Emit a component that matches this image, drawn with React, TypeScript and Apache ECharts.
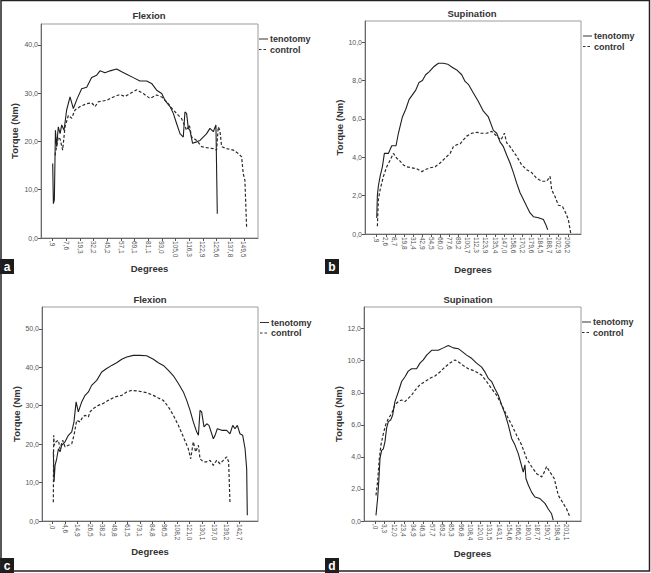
import React, { useEffect, useRef } from "react";
import * as echarts from "echarts";

// ---- Panel a: Flexion ----
const labelsA = [",9", "7,6", "19,3", "32,2", "45,2", "57,1", "69,1", "81,1", "93,0", "105,0", "116,3", "122,9", "125,6", "137,8", "149,5"];
const yTicksA = [0, 10, 20, 30, 40];
const tenotomyA = [
  [0.0, 15.4], [0.05, 7.1], [0.12, 7.9], [0.2, 22.3], [0.29, 18.9], [0.41, 23.0], [0.54, 21.6], [0.66, 23.4],
  [0.83, 22.3], [1.02, 26.5], [1.27, 29.2], [1.51, 26.8], [1.8, 28.9], [2.12, 30.9], [2.49, 31.2], [2.85, 33.2],
  [3.22, 33.7], [3.46, 34.6], [3.83, 34.2], [4.2, 34.6], [4.68, 35.0], [5.05, 34.4], [5.41, 33.9], [5.9, 33.2],
  [6.39, 32.5], [6.88, 32.5], [7.24, 32.0], [7.61, 30.6], [7.98, 29.9], [8.22, 28.5], [8.59, 27.2], [8.83, 25.8],
  [9.07, 23.7], [9.32, 21.6], [9.56, 20.9], [9.68, 26.1], [9.8, 25.8], [9.93, 22.7], [10.05, 22.3], [10.24, 19.6],
  [10.54, 19.9], [10.78, 20.2], [11.02, 20.9], [11.27, 21.6], [11.51, 22.7], [11.76, 22.0], [11.95, 23.4], [12.05, 5.0],
];
const controlA = [
  [0.17, 17.1], [0.41, 20.9], [0.54, 20.5], [0.73, 18.2], [0.9, 23.0], [1.15, 25.4], [1.39, 24.8], [1.63, 26.5],
  [2.0, 27.2], [2.49, 27.8], [2.85, 28.0], [3.1, 27.2], [3.34, 28.2], [3.95, 28.5], [4.44, 29.2], [4.93, 29.7],
  [5.29, 29.3], [5.66, 29.9], [6.15, 30.7], [6.63, 29.9], [7.12, 28.9], [7.61, 29.6], [7.98, 29.2], [8.34, 28.2],
  [8.83, 26.5], [9.2, 25.4], [9.44, 24.7], [9.8, 22.3], [10.0, 23.4], [10.17, 20.9], [10.54, 20.2], [10.9, 18.9],
  [11.27, 18.7], [11.76, 18.5], [12.0, 18.2], [12.12, 23.0], [12.24, 22.3], [12.37, 18.9], [12.73, 18.5], [13.22, 18.2],
  [13.59, 17.5], [13.83, 16.8], [13.95, 13.3], [14.07, 12.0], [14.2, 1.9],
];

// ---- Panel b: Supination ----
const labelsB = [",9", "2,6", "8,7", "19,8", "31,4", "42,9", "54,5", "66,0", "77,6", "89,2", "100,7", "112,3", "123,9", "135,4", "147,0", "158,6", "170,2", "179,6", "184,5", "188,7", "202,9", "206,2"];
const yTicksB = [0, 2, 4, 6, 8, 10];
const tenotomyB = [
  [0.0, 0.83], [0.07, 2.0], [0.18, 2.5], [0.37, 3.0], [0.62, 3.5], [0.84, 4.2], [1.28, 4.2], [1.47, 4.4],
  [1.65, 4.6], [2.12, 4.6], [2.38, 5.25], [2.82, 6.1], [3.19, 6.5], [3.55, 7.0], [3.92, 7.25], [4.29, 7.5],
  [4.65, 7.9], [5.02, 8.0], [5.38, 8.3], [5.75, 8.45], [6.23, 8.7], [6.78, 8.9], [7.33, 8.9], [7.8, 8.85],
  [8.24, 8.7], [8.79, 8.55], [9.34, 8.3], [9.71, 7.95], [10.07, 7.8], [10.62, 7.35], [11.17, 6.9], [11.72, 6.4],
  [12.27, 6.1], [12.82, 5.4], [13.19, 5.25], [13.55, 4.8], [13.92, 4.55], [14.29, 4.1], [14.65, 3.7], [15.02, 3.2],
  [15.38, 2.65], [15.75, 2.15], [16.12, 1.8], [16.48, 1.45], [16.85, 1.1], [17.22, 0.9], [17.77, 0.85], [18.32, 0.75],
  [18.57, 0.5], [18.79, 0.22],
];
const controlB = [
  [0.07, 0.4], [0.18, 1.8], [0.37, 2.3], [0.73, 3.0], [1.1, 3.5], [1.47, 3.85], [1.83, 4.2], [2.2, 3.95],
  [2.56, 3.8], [2.93, 3.6], [3.3, 3.5], [3.85, 3.45], [4.4, 3.4], [4.95, 3.25], [5.31, 3.35], [5.86, 3.45],
  [6.41, 3.5], [6.96, 3.7], [7.51, 3.95], [8.06, 4.2], [8.42, 4.55], [8.79, 4.65], [9.16, 4.7], [9.52, 4.9],
  [9.89, 5.1], [10.44, 5.25], [10.99, 5.3], [11.54, 5.25], [12.09, 5.25], [12.64, 5.35], [13.19, 5.1], [13.66, 4.9],
  [14.03, 5.25], [14.29, 4.75], [14.65, 4.55], [15.02, 4.3], [15.38, 4.05], [15.93, 3.6], [16.48, 3.35], [17.03, 3.2],
  [17.58, 2.9], [18.13, 2.75], [18.68, 2.75], [19.05, 3.0], [19.23, 2.3], [19.6, 1.95], [19.96, 1.5], [20.4, 1.45],
  [20.77, 1.1], [21.06, 0.75], [21.32, 0.05],
];

// ---- Panel c: Flexion ----
const labelsC = [",0", "4,6", "14,9", "26,5", "38,2", "49,8", "61,5", "73,1", "84,8", "96,5", "108,2", "121,0", "130,1", "137,0", "139,2", "142,7"];
const yTicksC = [0, 10, 20, 30, 40, 50];
const tenotomyC = [
  [0.05, 18.0], [0.11, 10.2], [0.19, 14.5], [0.32, 16.2], [0.46, 18.8], [0.59, 18.0], [0.72, 19.7], [0.99, 20.6],
  [1.26, 22.3], [1.53, 23.2], [1.71, 25.8], [1.88, 31.0], [2.06, 28.4], [2.33, 31.0], [2.6, 32.7], [2.87, 33.6],
  [3.13, 35.3], [3.54, 36.6], [3.94, 38.8], [4.34, 39.7], [4.74, 40.5], [5.14, 41.2], [5.55, 42.1], [5.95, 42.7],
  [6.48, 43.1], [7.02, 43.1], [7.55, 43.0], [8.09, 42.1], [8.49, 41.2], [8.89, 40.5], [9.3, 39.2], [9.7, 37.8],
  [10.1, 35.8], [10.5, 33.6], [10.77, 31.4], [11.04, 28.8], [11.3, 25.8], [11.57, 23.2], [11.71, 22.3], [11.84, 28.8],
  [11.97, 28.4], [12.16, 24.5], [12.38, 25.3], [12.56, 24.9], [12.78, 22.7], [12.91, 21.4], [13.05, 22.3], [13.23, 24.0],
  [13.58, 23.6], [13.98, 23.6], [14.25, 22.7], [14.47, 24.9], [14.65, 24.0], [14.84, 24.9], [15.05, 22.7], [15.27, 22.3],
  [15.46, 18.8], [15.59, 13.6], [15.64, 1.5],
];
const controlC = [
  [0.05, 4.9], [0.08, 22.3], [0.13, 19.7], [0.27, 20.6], [0.46, 21.0], [0.59, 18.8], [0.8, 21.0], [0.99, 19.3],
  [1.26, 19.7], [1.53, 20.1], [1.71, 22.3], [1.93, 26.2], [2.2, 25.8], [2.41, 27.1], [2.6, 27.5], [2.87, 27.1],
  [3.0, 28.4], [3.27, 29.3], [3.67, 30.1], [4.07, 30.6], [4.47, 31.4], [5.01, 32.3], [5.55, 32.7], [5.95, 33.6],
  [6.35, 34.0], [6.88, 33.8], [7.55, 33.4], [8.09, 32.7], [8.49, 32.0], [8.89, 31.4], [9.3, 29.7], [9.7, 27.5],
  [10.1, 24.9], [10.5, 21.9], [10.9, 18.8], [11.09, 16.2], [11.3, 20.6], [11.49, 18.0], [11.71, 19.7], [11.84, 16.2],
  [12.11, 15.4], [12.38, 15.4], [12.64, 15.8], [12.91, 14.5], [13.18, 15.8], [13.45, 14.9], [13.71, 15.8], [13.98, 16.7],
  [14.14, 15.4], [14.25, 4.5],
];

// ---- Panel d: Supination ----
const labelsD = [",0", "3,3", "12,0", "23,4", "34,9", "46,3", "57,7", "69,2", "85,3", "96,8", "108,4", "120,0", "131,5", "143,1", "154,6", "166,2", "180,0", "187,7", "190,7", "198,4", "201,1"];
const yTicksD = [0, 2, 4, 6, 8, 10, 12];
const tenotomyD = [
  [0.1, 0.35], [0.27, 1.4], [0.41, 2.65], [0.52, 3.9], [0.69, 4.4], [0.87, 4.5], [1.04, 4.95], [1.21, 5.8],
  [1.39, 6.2], [1.63, 6.3], [1.84, 6.6], [2.08, 7.45], [2.43, 8.05], [2.78, 8.7], [3.13, 9.0], [3.47, 9.35],
  [3.82, 9.5], [4.34, 9.5], [4.69, 9.85], [5.04, 10.05], [5.39, 10.35], [5.91, 10.65], [6.6, 10.65], [7.13, 10.8],
  [7.65, 10.95], [8.17, 10.8], [8.69, 10.75], [9.04, 10.6], [9.56, 10.35], [10.08, 10.15], [10.6, 9.85], [11.13, 9.6],
  [11.47, 9.3], [11.82, 8.9], [12.17, 8.7], [12.52, 8.25], [12.87, 7.85], [13.21, 7.25], [13.56, 6.7], [13.91, 6.0],
  [14.26, 5.15], [14.6, 4.75], [14.95, 4.2], [15.23, 3.6], [15.47, 3.05], [15.65, 3.5], [15.75, 2.65], [16.0, 2.25],
  [16.34, 1.8], [16.69, 1.5], [17.21, 1.4], [17.74, 1.1], [18.08, 0.75], [18.43, 0.45], [18.6, 0.05],
];
const controlD = [
  [0.1, 1.6], [0.27, 2.45], [0.45, 3.9], [0.62, 4.75], [0.87, 5.45], [1.11, 6.0], [1.39, 6.4], [1.74, 6.7],
  [2.08, 7.25], [2.43, 7.45], [2.78, 7.55], [3.13, 7.45], [3.47, 7.65], [3.82, 7.85], [4.17, 8.15], [4.69, 8.5],
  [5.21, 8.7], [5.74, 8.9], [6.26, 9.05], [6.78, 9.3], [7.3, 9.6], [7.82, 9.85], [8.34, 10.05], [8.76, 9.9],
  [9.21, 9.7], [9.74, 9.5], [10.43, 9.35], [11.13, 9.1], [11.65, 8.7], [12.17, 8.25], [12.69, 7.85], [13.21, 7.25],
  [13.74, 6.6], [14.26, 6.0], [14.78, 5.35], [15.3, 4.75], [15.82, 3.9], [16.34, 3.4], [16.87, 2.95], [17.39, 2.75],
  [17.67, 3.05], [17.91, 3.4], [18.26, 3.05], [18.71, 2.65], [19.13, 1.6], [19.54, 1.2], [20.0, 0.75], [20.34, 0.25],
];

const panelTitles = ["Flexion", "Supination", "Flexion", "Supination"];
const panelLetters = ["a", "b", "c", "d"];
const seriesNames = ["tenotomy", "control"];

const FONT = '"Liberation Sans", Arial, Helvetica, sans-serif';

// layout (pixels) for each panel
const layouts = [
  { left: 41, top: 24, width: 217, height: 214, xMin: -0.857, xMax: 15.03, yMax: 44.3, yGap: 22, xGap: 25,
    titleX: 149, titleY: 15, legX: 259, legY: 39, letterY: 259, letterX: 0 },
  { left: 365, top: 21, width: 216, height: 213, xMin: -1.29, xMax: 22.45, yMax: 11.1, yGap: 20, xGap: 30,
    titleX: 472, titleY: 13, legX: 583, legY: 36, letterY: 259, letterX: 325 },
  { left: 42, top: 307, width: 216, height: 214, xMin: -0.86, xMax: 16.5, yMax: 55.7, yGap: 21, xGap: 25,
    titleX: 150, titleY: 299, legX: 260, legY: 322.5, letterY: 558, letterX: 0 },
  { left: 364, top: 307, width: 217, height: 214, xMin: -1.15, xMax: 21.5, yMax: 13.35, yGap: 19, xGap: 27,
    titleX: 468, titleY: 299, legX: 582, legY: 322, letterY: 558, letterX: 325 },
];

const panels = [
  { labels: labelsA, yTicks: yTicksA, ten: tenotomyA, ctl: controlA },
  { labels: labelsB, yTicks: yTicksB, ten: tenotomyB, ctl: controlB },
  { labels: labelsC, yTicks: yTicksC, ten: tenotomyC, ctl: controlC },
  { labels: labelsD, yTicks: yTicksD, ten: tenotomyD, ctl: controlD },
];

function buildOption() {
  const grid: any[] = [];
  const xAxis: any[] = [];
  const yAxis: any[] = [];
  const series: any[] = [];
  const graphic: any[] = [];

  panels.forEach((p, i) => {
    const L = layouts[i];
    grid.push({
      left: L.left, top: L.top, width: L.width, height: L.height,
      show: true, borderColor: "#9c9c9c", borderWidth: 1, containLabel: false,
    });
    const xTicks = p.labels.map((_, k) => k);
    xAxis.push({
      type: "value", gridIndex: i, min: L.xMin, max: L.xMax,
      axisLine: { show: true, onZero: false, lineStyle: { color: "#6a6a6a", width: 1 } },
      axisTick: { show: true, length: 3, customValues: xTicks, lineStyle: { color: "#555" } },
      axisLabel: {
        customValues: xTicks, rotate: -90, fontSize: 6.5, color: "#555", margin: 3, fontFamily: FONT,
        formatter: (v: number) => p.labels[Math.round(v)] ?? "",
      },
      splitLine: { show: false },
      name: "Degrees", nameLocation: "middle", nameGap: L.xGap,
      nameTextStyle: { fontWeight: "bold", fontSize: 9.5, color: "#333", fontFamily: FONT },
    });
    yAxis.push({
      type: "value", gridIndex: i, min: 0, max: L.yMax,
      axisLine: { show: true, onZero: false, lineStyle: { color: "#6a6a6a", width: 1 } },
      axisTick: { show: true, length: 3, customValues: p.yTicks, lineStyle: { color: "#555" } },
      axisLabel: {
        customValues: p.yTicks, fontSize: 7, color: "#555", margin: 3, fontFamily: FONT,
        formatter: (v: number) => v.toFixed(1).replace(".", ","),
      },
      splitLine: { show: false },
      name: "Torque (Nm)", nameLocation: "middle", nameGap: L.yGap,
      nameTextStyle: { fontWeight: "bold", fontSize: 9.5, color: "#333", fontFamily: FONT },
    });
    series.push({
      type: "line", name: seriesNames[0], xAxisIndex: i, yAxisIndex: i, data: p.ten,
      symbol: "none", showSymbol: false, clip: true,
      lineStyle: { color: "#1e1e1e", width: 1.1, type: "solid" },
    });
    series.push({
      type: "line", name: seriesNames[1], xAxisIndex: i, yAxisIndex: i, data: p.ctl,
      symbol: "none", showSymbol: false, clip: true,
      lineStyle: { color: "#2a2a2a", width: 1.2, type: [3, 2] },
    });

    // title
    graphic.push({
      type: "text", x: L.titleX, y: L.titleY,
      style: { text: panelTitles[i], align: "center", verticalAlign: "middle",
        font: `bold 9.5px ${FONT}`, fill: "#333" },
    });
    // legend
    seriesNames.forEach((nm, k) => {
      const yy = L.legY + k * 10.5;
      graphic.push({
        type: "line",
        shape: { x1: L.legX, y1: yy, x2: L.legX + 9, y2: yy },
        style: { stroke: "#333", lineWidth: 1, lineDash: k === 1 ? [2.5, 2] : null },
      });
      graphic.push({
        type: "text", x: L.legX + 11, y: yy,
        style: { text: nm, align: "left", verticalAlign: "middle",
          font: `bold 9px ${FONT}`, fill: "#333" },
      });
    });
    // panel letter box
    graphic.push({
      type: "rect",
      shape: { x: L.letterX, y: L.letterY, width: 14, height: 15 },
      style: { fill: "#1c1c1c" },
    });
    graphic.push({
      type: "text", x: L.letterX + 7, y: L.letterY + 7.5,
      style: { text: panelLetters[i], align: "center", verticalAlign: "middle",
        font: `bold 12px ${FONT}`, fill: "#fff" },
    });
  });

  // outer frame
  graphic.push({
    type: "rect",
    shape: { x: 1, y: 0.5, width: 648.5, height: 570.5 },
    style: { fill: "none", stroke: "#222", lineWidth: 1.5 },
    z: 10,
  });

  return {
    animation: false,
    backgroundColor: "#ffffff",
    grid, xAxis, yAxis, series, graphic,
  };
}

export default function App() {
  const ref = useRef<HTMLDivElement>(null);
  useEffect(() => {
    document.body.style.margin = "0";
    const chart = echarts.init(ref.current as HTMLDivElement, null, { renderer: "svg" });
    chart.setOption(buildOption() as any);
    return () => chart.dispose();
  }, []);
  return <div ref={ref} style={{ width: 651, height: 573 }} />;
}
